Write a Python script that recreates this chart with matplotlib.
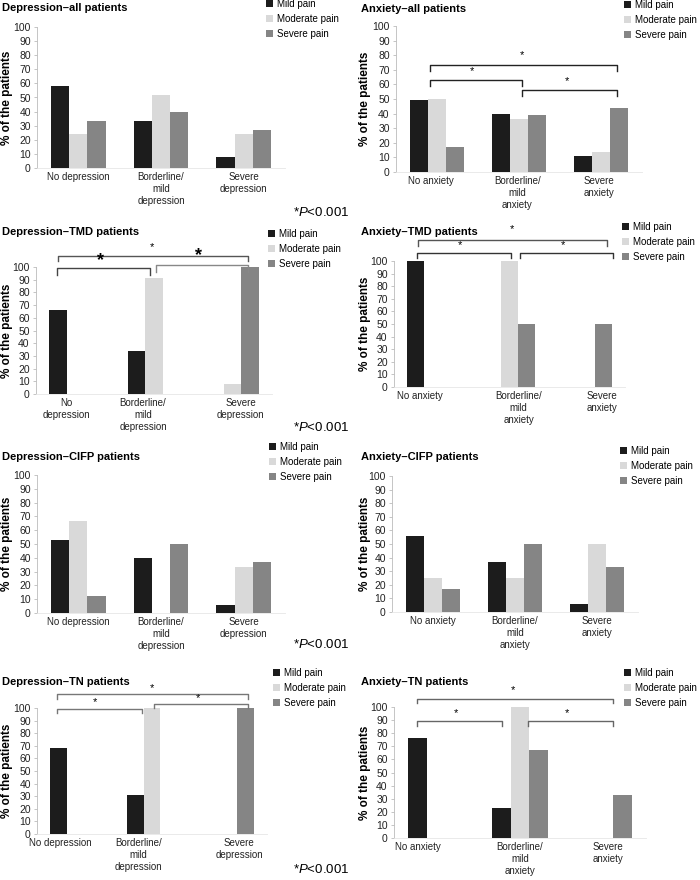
import numpy as np
import matplotlib.pyplot as plt

plt.rcParams['font.family'] = ['Liberation Sans', 'DejaVu Sans']
plt.rcParams['mathtext.fontset'] = 'custom'
plt.rcParams['mathtext.rm'] = 'Liberation Sans'
plt.rcParams['mathtext.it'] = 'Liberation Sans:italic'

W, H = 700, 880

pain_levels = ['Mild pain', 'Moderate pain', 'Severe pain']
pain_colors = ['#1c1c1c', '#d9d9d9', '#858585']

dep_cats = ['No depression', 'Borderline/\nmild\ndepression', 'Severe\ndepression']
dep_cats_tmd = ['No\ndepression', 'Borderline/\nmild\ndepression', 'Severe\ndepression']
anx_cats = ['No anxiety', 'Borderline/\nmild\nanxiety', 'Severe\nanxiety']

# values (% of patients), order: no / borderline-mild / severe
dep_all_mild = [58, 33, 8]
dep_all_moderate = [24, 52, 24]
dep_all_severe = [33, 40, 27]

anx_all_mild = [49, 40, 11]
anx_all_moderate = [50, 36, 14]
anx_all_severe = [17, 39, 44]

dep_tmd_mild = [66, 34, 0]
dep_tmd_moderate = [0, 91, 8]
dep_tmd_severe = [0, 0, 100]

anx_tmd_mild = [100, 0, 0]
anx_tmd_moderate = [0, 100, 0]
anx_tmd_severe = [0, 50, 50]

dep_cifp_mild = [53, 40, 6]
dep_cifp_moderate = [67, 0, 33]
dep_cifp_severe = [12, 50, 37]

anx_cifp_mild = [56, 37, 6]
anx_cifp_moderate = [25, 25, 50]
anx_cifp_severe = [17, 50, 33]

dep_tn_mild = [68, 31, 0]
dep_tn_moderate = [0, 100, 0]
dep_tn_severe = [0, 0, 100]

anx_tn_mild = [76, 23, 0]
anx_tn_moderate = [0, 100, 0]
anx_tn_severe = [0, 67, 33]

# significance brackets: (x0, x1, y_line, y_end, star_x, star_y, star_size, colour)
anx_all_brackets = [(-0.09, 2.20, 73, 69, 1.04, 80, 8, '#222222'),
                    (-0.09, 1.04, 63, 59, 0.43, 69, 8, '#222222'),
                    (1.04, 2.20, 56, 52, 1.58, 62, 8, '#222222')]
dep_tmd_brackets = [(-0.22, 2.19, 109, 105, 0.98, 116, 8, '#555555'),
                    (-0.23, 0.95, 99, 94, 0.32, 105, 13, '#444444'),
                    (1.02, 2.20, 101.5, 96, 1.56, 109, 13, '#888888')]
anx_tmd_brackets = [(-0.19, 2.27, 117, 112, 1.03, 125, 8, '#555555'),
                    (-0.20, 1.02, 106, 102, 0.36, 113, 8, '#333333'),
                    (1.14, 2.34, 106, 102, 1.69, 113, 8, '#333333')]
dep_tn_brackets = [(-0.24, 2.25, 111, 107, 1.00, 116, 8, '#777777'),
                   (-0.24, 0.87, 99, 96, 0.26, 105, 8, '#777777'),
                   (1.02, 2.25, 103, 100, 1.60, 108, 8, '#777777')]
anx_tn_brackets = [(-0.23, 2.11, 106, 103, 0.92, 113, 8, '#666666'),
                   (-0.23, 0.79, 89, 85.5, 0.24, 95, 8, '#666666'),
                   (1.10, 2.11, 89, 85.5, 1.56, 95, 8, '#666666')]

# (title, categories, tick positions, series, brackets, axes px [left, top(100), width, bottom(0)],
#  title xy, legend xy, ylabel x, footnote y)
panels = [
    ('Depression\u2013all patients', dep_cats, None,
     (dep_all_mild, dep_all_moderate, dep_all_severe),
     [], (37, 27, 248, 168), (2, 8), (266, -1), 7, 212),
    ('Anxiety\u2013all patients', anx_cats, [-0.07, 0.98, 1.98],
     (anx_all_mild, anx_all_moderate, anx_all_severe),
     anx_all_brackets, (396, 26, 246, 172), (361, 9), (624, 0), 365, None),
    ('Depression\u2013TMD patients', dep_cats_tmd, [-0.11, 0.86, 2.1],
     (dep_tmd_mild, dep_tmd_moderate, dep_tmd_severe),
     dep_tmd_brackets, (36, 267, 236, 394), (2, 232), (268, 229), 7, 427),
    ('Anxiety\u2013TMD patients', anx_cats, [-0.16, 1.12, 2.2],
     (anx_tmd_mild, anx_tmd_moderate, anx_tmd_severe),
     anx_tmd_brackets, (394, 261, 231, 387), (361, 232), (622, 222), 365, None),
    ('Depression\u2013CIFP patients', dep_cats, None,
     (dep_cifp_mild, dep_cifp_moderate, dep_cifp_severe),
     [], (37, 475, 248, 613), (2, 457), (269, 442), 7, 644),
    ('Anxiety\u2013CIFP patients', anx_cats, None,
     (anx_cifp_mild, anx_cifp_moderate, anx_cifp_severe),
     [], (392, 476, 246, 612), (361, 457), (620, 446), 365, None),
    ('Depression\u2013TN patients', dep_cats, [-0.2, 0.82, 2.14],
     (dep_tn_mild, dep_tn_moderate, dep_tn_severe),
     dep_tn_brackets, (37, 708, 230, 834), (2, 682), (273, 668), 7, 869),
    ('Anxiety\u2013TN patients', anx_cats, [-0.21, 1.0, 2.05],
     (anx_tn_mild, anx_tn_moderate, anx_tn_severe),
     anx_tn_brackets, (394, 707, 252, 838), (361, 682), (624, 668), 365, None),
]

fig = plt.figure(figsize=(W / 100, H / 100), dpi=100)

bw = 0.22
x = np.arange(3)

for (title, cats, ticks, series, brackets, (left, top, width, bottom),
     (tx, ty), (lx, ly), ylx, foot_y) in panels:
    ax = fig.add_axes([left / W, 1 - bottom / H, width / W, (bottom - top) / H])
    handles = []
    for i, vals in enumerate(series):
        b = ax.bar(x + (i - 1) * bw, vals, bw, color=pain_colors[i], label=pain_levels[i])
        handles.append(b)
    ax.set_xlim(-0.5, 2.5)
    ax.set_ylim(0, 100)
    ax.set_yticks(range(0, 101, 10))
    ax.set_xticks(x if ticks is None else ticks)
    ax.set_xticklabels(cats, fontsize=7, linespacing=1.25)
    ax.tick_params(axis='x', length=0, pad=3, colors='#222222')
    ax.tick_params(axis='y', length=2.5, width=0.6, color='#bbbbbb', pad=2,
                   labelsize=7.5, labelcolor='#222222')
    for s in ['top', 'right']:
        ax.spines[s].set_visible(False)
    ax.spines['left'].set_color('#bbbbbb')
    ax.spines['left'].set_linewidth(0.6)
    ax.spines['bottom'].set_color('#e6e6e6')
    ax.spines['bottom'].set_linewidth(0.6)

    for (x0, x1, yl, ye, sx, sy, ss, bc) in brackets:
        ax.plot([x0, x0, x1, x1], [ye, yl, yl, ye], color=bc, lw=1.0, clip_on=False)
        ax.text(sx, sy, '*', ha='center', va='center', fontsize=ss,
                fontweight='bold' if ss > 10 else 'normal', clip_on=False)

    fig.text(tx / W, 1 - ty / H, title, fontsize=8, fontweight='bold', ha='left', va='center')
    fig.text(ylx / W, 1 - (top + bottom) / 2 / H, '% of the patients', rotation=90,
             fontsize=8.5, fontweight='bold', ha='center', va='center')
    ax.legend(handles=handles, loc='upper left', bbox_to_anchor=(lx / W, 1 - ly / H),
              bbox_transform=fig.transFigure, frameon=False, fontsize=7,
              handlelength=0.7, handleheight=0.7, handletextpad=0.4,
              labelspacing=0.5, borderpad=0, borderaxespad=0)
    if foot_y is not None:
        fig.text(349 / W, 1 - foot_y / H, r'*$\it{P}$<0.001', fontsize=9.5,
                 ha='right', va='center')

fig.savefig('out.png', dpi=100)
